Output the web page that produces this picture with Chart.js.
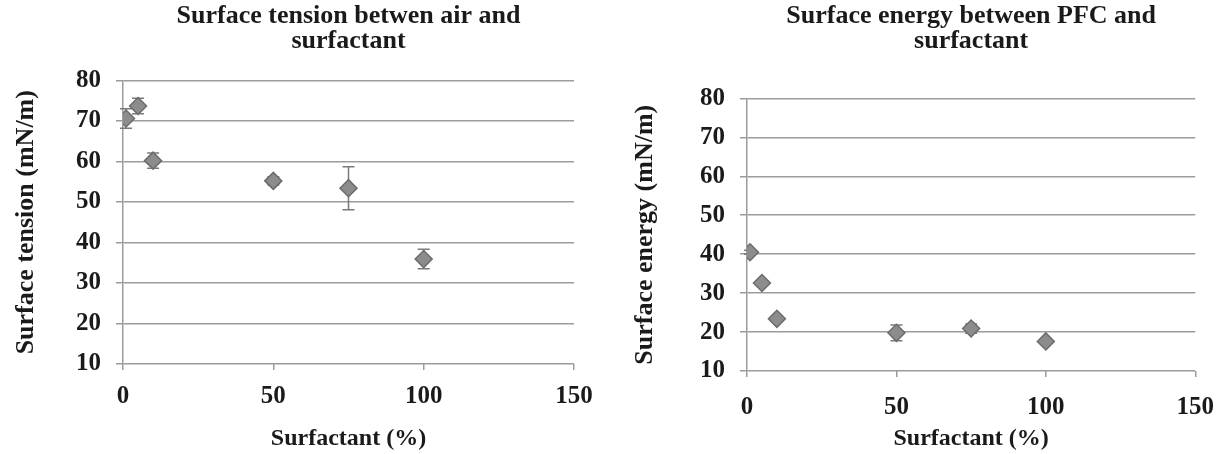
<!DOCTYPE html>
<html>
<head>
<meta charset="utf-8">
<script src="https://cdn.jsdelivr.net/npm/chart.js@4/dist/chart.umd.min.js"></script>
<style>
  html, body { margin: 0; padding: 0; background: #fff; }
  .wrap { display: flex; width: 1230px; height: 454px; }
  .box { position: relative; width: 615px; height: 454px; }
</style>
</head>
<body>
<div class="wrap">
  <div class="box"><canvas id="chart-tension"></canvas></div>
  <div class="box"><canvas id="chart-energy"></canvas></div>
</div>
<script>
// x positions shared by both panels
const surfactantPct = [1, 5, 10, 50, 75, 100];

// left panel: air / surfactant
const tensionValues = [70.6, 73.7, 60.2, 55.2, 53.4, 35.9];
const tensionErrors = [2.4, 1.9, 1.9, 1.0, 5.3, 2.4];

// right panel: PFC / surfactant
const energyValues = [40.5, 32.6, 23.4, 19.8, 20.9, 17.6];
const energyErrors = [0.5, 0.5, 0.7, 2.0, 1.2, 0.5];

const xTicks = [0, 50, 100, 150];
const yTicks = [10, 20, 30, 40, 50, 60, 70, 80];

(function () {
  'use strict';

  const FONT = 'Liberation Serif, Times New Roman, serif';
  const TEXT = '#1a1a1a';
  const GRID = '#9c9c9c';

  /* vertical error bars with caps, drawn under the markers */
  const errorBars = {
    id: 'errorBars',
    beforeDatasetsDraw(chart, args, opts) {
      const { ctx, scales: { x, y } } = chart;
      const pts = chart.data.datasets[0].data;
      ctx.save();
      ctx.strokeStyle = opts.color || '#7a7a7a';
      ctx.lineWidth = 1.5;
      pts.forEach((p, i) => {
        const err = opts.errors[i];
        const px = x.getPixelForValue(p.x);
        const top = y.getPixelForValue(p.y + err);
        const bot = y.getPixelForValue(p.y - err);
        ctx.beginPath();
        ctx.moveTo(px, top); ctx.lineTo(px, bot);
        ctx.moveTo(px - 6, top); ctx.lineTo(px + 6, top);
        ctx.moveTo(px - 6, bot); ctx.lineTo(px + 6, bot);
        ctx.stroke();
      });
      ctx.restore();
    }
  };

  function makePanel(id, cfg) {
    new Chart(document.getElementById(id), {
      type: 'scatter',
      data: {
        datasets: [{
          data: surfactantPct.map((v, i) => ({ x: v, y: cfg.values[i] })),
          pointStyle: 'rectRot',
          pointRadius: 8.5,
          pointHoverRadius: 8.5,
          backgroundColor: '#8c8c8c',
          borderColor: '#6c6c6c',
          borderWidth: 1.5
        }]
      },
      options: {
        responsive: true,
        maintainAspectRatio: false,
        animation: false,
        layout: { padding: { left: 0, right: cfg.padRight, top: 0, bottom: 0 } },
        plugins: {
          legend: { display: false },
          tooltip: { enabled: false },
          title: {
            display: true,
            text: cfg.title,
            fullSize: false,
            color: TEXT,
            font: { family: FONT, size: 26, weight: 'bold', lineHeight: 0.96 },
            padding: { top: 3.5, bottom: cfg.titleGap }
          },
          errorBars: { errors: cfg.errors }
        },
        scales: {
          x: {
            type: 'linear',
            min: 0,
            max: 150,
            afterBuildTicks: axis => { axis.ticks = xTicks.map(v => ({ value: v })); },
            afterFit: s => { s.height = cfg.xHeight; },
            grid: { drawOnChartArea: false, drawTicks: true, tickLength: 6, color: GRID, lineWidth: 1.5 },
            border: { display: false },
            ticks: { color: TEXT, padding: cfg.xTickPad, font: { family: FONT, size: 25, weight: 'bold' } },
            title: {
              display: true,
              text: 'Surfactant (%)',
              color: TEXT,
              font: { family: FONT, size: 24, weight: 'bold', lineHeight: 1.15 },
              padding: { top: 0, bottom: 1 }
            }
          },
          y: {
            min: 10,
            max: 80,
            afterBuildTicks: axis => { axis.ticks = yTicks.map(v => ({ value: v })); },
            afterFit: s => { s.width = cfg.yWidth; },
            grid: { color: GRID, lineWidth: 1.5, tickLength: 7 },
            border: { color: GRID, width: 1.5 },
            ticks: { color: TEXT, padding: 15, font: { family: FONT, size: 25, weight: 'bold' } },
            title: {
              display: true,
              text: cfg.yTitle,
              color: TEXT,
              font: { family: FONT, size: 26, weight: 'bold', lineHeight: 1.15 },
              padding: { top: cfg.yTitlePad, bottom: 0 }
            }
          }
        }
      },
      plugins: [errorBars]
    });
  }

  makePanel('chart-tension', {
    values: tensionValues,
    errors: tensionErrors,
    title: ['Surface tension betwen air and', 'surfactant'],
    yTitle: 'Surface tension (mN/m)',
    padRight: 41,
    titleGap: 27,
    yWidth: 123,
    yTitlePad: 11,
    xHeight: 90,
    xTickPad: 12
  });

  makePanel('chart-energy', {
    values: energyValues,
    errors: energyErrors,
    title: ['Surface energy between PFC and', 'surfactant'],
    yTitle: 'Surface energy (mN/m)',
    padRight: 33,
    titleGap: 45,
    yWidth: 132,
    yTitlePad: 15,
    xHeight: 83,
    xTickPad: 16
  });
})();
</script>
</body>
</html>
